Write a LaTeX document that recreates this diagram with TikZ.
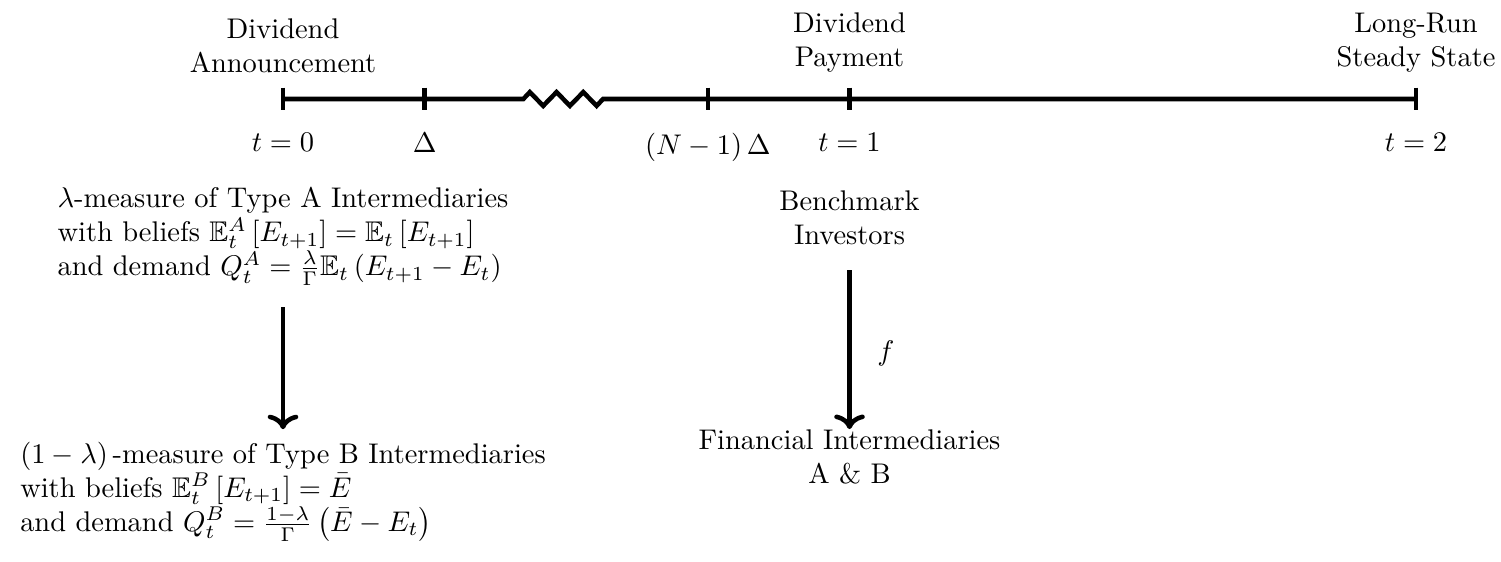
\documentclass[tikz,border=0pt]{standalone}
\usepackage{amsmath}
\usepackage{amssymb}
\usetikzlibrary{arrows.meta, positioning}

\begin{document}
\begin{tikzpicture}
\tikzset{tline/.style={ultra thick}, tmark/.style={ultra thick}, lbl/.style={above, align=center}, blk/.style={align=left}}
\useasboundingbox (-3.497,1.223) rectangle (15.050,-5.709);
% time points
\coordinate (t0) at (0,0);
\coordinate (d1) at (1.75,0);
\coordinate (dn) at (5.25,0);
\coordinate (t1) at (7,0);
\coordinate (t2) at (14,0);
\coordinate (z0) at (2.97,0);
\coordinate (z1) at (4,0);
\draw[tline] (t0) -- (z0) -- (3.05,0.085) -- (3.215,-0.085) -- (3.38,0.085) -- (3.545,-0.085) -- (3.71,0.085) -- (3.875,-0.085) -- (3.955,0) -- (z1) -- (t2);
\foreach \p in {t0,d1,dn,t1,t2}
  \draw[tmark] ([yshift=0.14cm]\p) -- ([yshift=-0.14cm]\p);
\node[lbl] (ann) at (0,0.2) {Dividend\\Announcement};
\node[lbl] (pay) at (7,0.2) {Dividend\\Payment};
\node[lbl] (lr) at (14,0.2) {Long-Run\\Steady State};
\node[below] (lt0) at (0,-0.3) {$t=0$};
\node[below] (ld1) at (1.75,-0.3) {$\Delta$};
\node[below] (ldn) at (5.25,-0.3) {$\left(N-1\right)\Delta$};
\node[below] (lt1) at (7,-0.3) {$t=1$};
\node[below] (lt2) at (14,-0.3) {$t=2$};
% agents
\node[blk] (typeA) at (0,-1.70) {$\lambda$-measure of Type A Intermediaries\\%
with beliefs $\mathbb{E}_t^A\left[E_{t+1}\right]=\mathbb{E}_t\left[E_{t+1}\right]$\\%
and demand $Q_t^A=\frac{\lambda}{\Gamma}\mathbb{E}_t\left(E_{t+1}-E_t\right)$};
\node[blk] (typeB) at (0,-4.85) {$\left(1-\lambda\right)$\,-measure of Type B Intermediaries\\%
with beliefs $\mathbb{E}_t^B\left[E_{t+1}\right]=\bar{E}$\\%
and demand $Q_t^B=\frac{1-\lambda}{\Gamma}\left(\bar{E}-E_t\right)$};
\node[align=center] (bench) at (7,-1.466) {Benchmark\\Investors};
\node[align=center] (fin) at (7,-4.42) {Financial Intermediaries\\A \& B};
\draw[->, ultra thick, shorten <=0.14cm, shorten >=0.03cm] (typeA) -- (typeB);
\draw[->, ultra thick, shorten <=0.19cm, shorten >=-0.12cm] (bench) -- node[right=2mm, pos=0.6]{$f$} (fin);
\end{tikzpicture}
\end{document}
